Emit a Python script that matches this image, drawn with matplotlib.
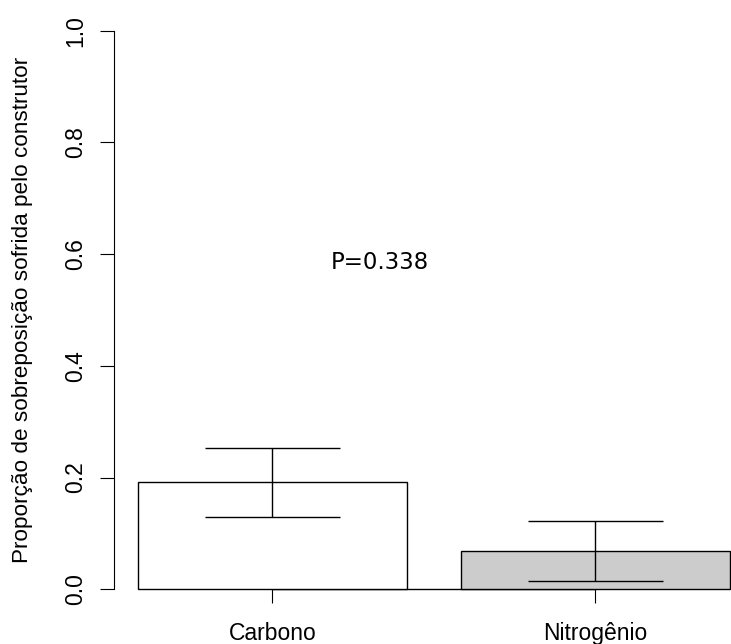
import matplotlib.pyplot as plt

categories = ["Carbono", "Nitrogênio"]
means = [0.1916, 0.0686]
upper = [0.2524, 0.1228]
lower = [0.130, 0.0149]
colors = ["white", "#CCCCCC"]
yticks = [0.0, 0.2, 0.4, 0.6, 0.8, 1.0]
p_text = "P=0.338"

# R barplot layout: width 1, space 0.2
centers = [0.7, 1.9]

plt.rcParams['font.family'] = ['Liberation Sans', 'DejaVu Sans']

fig = plt.figure(figsize=(7.31, 6.44), dpi=100)
ax = fig.add_axes([114.3 / 731, (644 - 611.6) / 644, 639.2 / 731, 603.2 / 644])

ax.bar(centers, means, width=1.0, color=colors, edgecolor="black", linewidth=1.0, zorder=2)
for c, lo, up in zip(centers, lower, upper):
    ax.vlines(c, lo, up, color="black", linewidth=1.0, zorder=3)
    ax.hlines([lo, up], c - 0.25, c + 0.25, color="black", linewidth=1.0, zorder=3)

ax.text(1.1, 0.585, p_text, ha="center", va="center", fontsize=16.5, family="DejaVu Sans")

ax.set_xlim(0.112, 2.488)
ax.set_ylim(-0.04, 1.04)
for s in ["top", "right"]:
    ax.spines[s].set_visible(False)
ax.spines["left"].set_bounds(0, 1)
ax.spines["left"].set_linewidth(0.8)
# x axis drawn at y=0, line only between the first and last tick
ax.spines["bottom"].set_position(("data", 0))
ax.spines["bottom"].set_bounds(centers[0], centers[1])
ax.spines["bottom"].set_linewidth(1.0)
ax.spines["bottom"].set_zorder(1)

ax.set_xticks(centers)
ax.set_xticklabels(categories, fontsize=16.5)
ax.set_yticks(yticks)
ax.set_yticklabels([f"{v:.1f}" for v in yticks], fontsize=16.5, rotation=90, va="center")
ax.tick_params(axis="both", direction="out", length=10.3, width=0.8, color="black")
ax.tick_params(axis="x", pad=13.5)
ax.tick_params(axis="y", pad=9)

ax.set_ylabel("Proporção de sobreposição sofrida pelo construtor", fontsize=16.2)
ax.yaxis.set_label_coords(-0.127, 0.5)

fig.savefig("out.png", dpi=100)
